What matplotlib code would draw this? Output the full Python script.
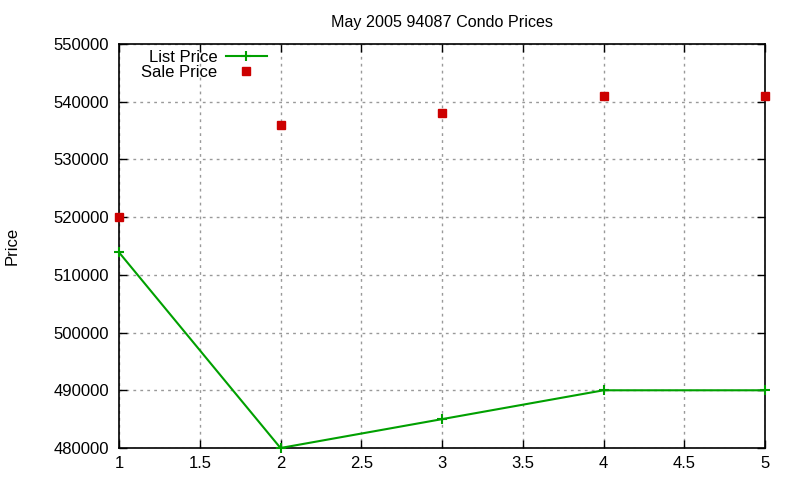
import numpy as np
import matplotlib
matplotlib.use('Agg')
import matplotlib.pyplot as plt
from matplotlib.ticker import FormatStrFormatter, MultipleLocator

# dados
x = [1, 2, 3, 4, 5]
list_price = [513900, 480000, 485000, 490000, 490000]
sale_price = [520000, 535900, 538000, 541000, 541000]

plt.rcParams['font.family'] = ['Liberation Sans', 'DejaVu Sans']

fig = plt.figure(figsize=(8, 4.8), dpi=100)
ax = fig.add_axes([119/800, 1 - 448/480, (765-119)/800, (448-44)/480])

ax.plot(x, list_price, color='#00a000', lw=1.5, marker='+', ms=6.5, mew=1.5,
        label='List Price', clip_on=False, zorder=3)
ax.plot(x, sale_price, color='#cc0000', ls='none', marker='s', ms=6,
        label='Sale Price', clip_on=False, zorder=3)

ax.set_xlim(1, 5)
ax.set_ylim(480000, 550000)
ax.xaxis.set_major_locator(MultipleLocator(0.5))
ax.yaxis.set_major_locator(MultipleLocator(10000))
ax.xaxis.set_major_formatter(FormatStrFormatter('%g'))
ax.yaxis.set_major_formatter(FormatStrFormatter('%d'))
ax.tick_params(direction='in', length=6, width=1, top=True, right=True, labelsize=12)
ax.tick_params(axis='y', pad=7)
ax.tick_params(axis='x', pad=6)
for s in ax.spines.values():
    s.set_linewidth(1.2)
ax.grid(True, color='#999999', ls=(0, (2, 3)), lw=1)

ax.set_title('May 2005 94087 Condo Prices', fontsize=11.6, pad=12)
fig.text(12/800, 1 - 246/480, 'Price', rotation=90, fontsize=12, va='center', ha='center')

ax.legend(loc='upper left', bbox_to_anchor=(0.011, 1.022), frameon=False, markerfirst=False,
          fontsize=12, handlelength=2.5, labelspacing=0.0, handletextpad=0.5, borderaxespad=0.5)

plt.savefig('out.png')
